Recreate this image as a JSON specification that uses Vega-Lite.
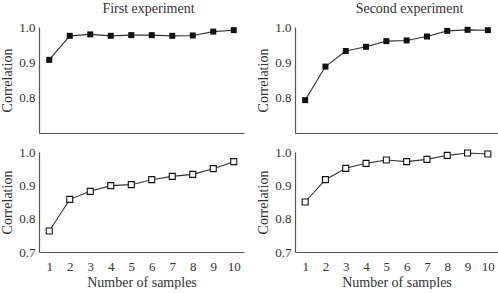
{
  "$schema": "https://vega.github.io/schema/vega-lite/v6.json",
  "background": "white",
  "padding": {"left": 0, "top": 2, "right": 0, "bottom": 0},
  "config": {
    "font": "Liberation Serif, Times New Roman, Times, serif",
    "view": {"stroke": null},
    "axis": {
      "grid": false,
      "ticks": false,
      "domainColor": "#555555",
      "domainWidth": 1.2,
      "labelFont": "Liberation Serif, Times New Roman, Times, serif",
      "labelFontSize": 13,
      "labelColor": "#333333",
      "titleFont": "Liberation Serif, Times New Roman, Times, serif",
      "titleFontSize": 14,
      "titleFontWeight": "normal",
      "titleColor": "#333333"
    },
    "title": {"font": "Liberation Serif, Times New Roman, Times, serif", "fontSize": 14, "fontWeight": "normal", "color": "#333333", "offset": 5}
  },
  "datasets": {
    "corr": [
      {"panel": "top-left", "n": 1, "r": 0.907},
      {"panel": "top-left", "n": 2, "r": 0.975},
      {"panel": "top-left", "n": 3, "r": 0.979},
      {"panel": "top-left", "n": 4, "r": 0.975},
      {"panel": "top-left", "n": 5, "r": 0.977},
      {"panel": "top-left", "n": 6, "r": 0.977},
      {"panel": "top-left", "n": 7, "r": 0.975},
      {"panel": "top-left", "n": 8, "r": 0.976},
      {"panel": "top-left", "n": 9, "r": 0.987},
      {"panel": "top-left", "n": 10, "r": 0.991},
      {"panel": "top-right", "n": 1, "r": 0.793},
      {"panel": "top-right", "n": 2, "r": 0.888},
      {"panel": "top-right", "n": 3, "r": 0.932},
      {"panel": "top-right", "n": 4, "r": 0.944},
      {"panel": "top-right", "n": 5, "r": 0.960},
      {"panel": "top-right", "n": 6, "r": 0.962},
      {"panel": "top-right", "n": 7, "r": 0.973},
      {"panel": "top-right", "n": 8, "r": 0.989},
      {"panel": "top-right", "n": 9, "r": 0.992},
      {"panel": "top-right", "n": 10, "r": 0.991},
      {"panel": "bottom-left", "n": 1, "r": 0.763},
      {"panel": "bottom-left", "n": 2, "r": 0.858},
      {"panel": "bottom-left", "n": 3, "r": 0.882},
      {"panel": "bottom-left", "n": 4, "r": 0.899},
      {"panel": "bottom-left", "n": 5, "r": 0.902},
      {"panel": "bottom-left", "n": 6, "r": 0.917},
      {"panel": "bottom-left", "n": 7, "r": 0.927},
      {"panel": "bottom-left", "n": 8, "r": 0.933},
      {"panel": "bottom-left", "n": 9, "r": 0.950},
      {"panel": "bottom-left", "n": 10, "r": 0.971},
      {"panel": "bottom-right", "n": 1, "r": 0.850},
      {"panel": "bottom-right", "n": 2, "r": 0.917},
      {"panel": "bottom-right", "n": 3, "r": 0.951},
      {"panel": "bottom-right", "n": 4, "r": 0.966},
      {"panel": "bottom-right", "n": 5, "r": 0.976},
      {"panel": "bottom-right", "n": 6, "r": 0.971},
      {"panel": "bottom-right", "n": 7, "r": 0.978},
      {"panel": "bottom-right", "n": 8, "r": 0.990},
      {"panel": "bottom-right", "n": 9, "r": 0.997},
      {"panel": "bottom-right", "n": 10, "r": 0.994}
    ]
  },
  "columns": 2,
  "bounds": "flush",
  "spacing": {"row": 19, "column": 51},
  "concat": [
    {
      "title": {"text": "First experiment", "dx": 7},
      "width": 205,
      "height": 106,
      "data": {"name": "corr"},
      "transform": [{"filter": "datum.panel === 'top-left'"}],
      "encoding": {
        "x": {"field": "n", "type": "quantitative", "scale": {"domain": [0.5, 10.5], "nice": false},
              "axis": {"labels": false, "title": null}},
        "y": {"field": "r", "type": "quantitative", "scale": {"domain": [0.7, 1.0], "nice": false, "zero": false},
              "axis": {"values": [0.8, 0.9, 1.0], "format": ".1f", "title": "Correlation", "labelPadding": 4, "titlePadding": 4}}
      },
      "layer": [
        {"mark": {"type": "line", "color": "#333333", "strokeWidth": 1.1}},
        {"mark": {"type": "point", "shape": "square", "filled": true, "color": "#111111", "size": 36, "opacity": 1}}
      ]
    },
    {
      "title": {"text": "Second experiment", "dx": 13},
      "width": 203,
      "height": 106,
      "data": {"name": "corr"},
      "transform": [{"filter": "datum.panel === 'top-right'"}],
      "encoding": {
        "x": {"field": "n", "type": "quantitative", "scale": {"domain": [0.5, 10.5], "nice": false},
              "axis": {"labels": false, "title": null}},
        "y": {"field": "r", "type": "quantitative", "scale": {"domain": [0.7, 1.0], "nice": false, "zero": false},
              "axis": {"values": [0.8, 0.9, 1.0], "format": ".1f", "title": "Correlation", "labelPadding": 4, "titlePadding": 4}}
      },
      "layer": [
        {"mark": {"type": "line", "color": "#333333", "strokeWidth": 1.1}},
        {"mark": {"type": "point", "shape": "square", "filled": true, "color": "#111111", "size": 36, "opacity": 1}}
      ]
    },
    {
      "width": 205,
      "height": 100,
      "data": {"name": "corr"},
      "transform": [{"filter": "datum.panel === 'bottom-left'"}],
      "encoding": {
        "x": {"field": "n", "type": "quantitative", "scale": {"domain": [0.5, 10.5], "nice": false},
              "axis": {"values": [1, 2, 3, 4, 5, 6, 7, 8, 9, 10], "title": "Number of samples", "labelPadding": 8, "titlePadding": 2}},
        "y": {"field": "r", "type": "quantitative", "scale": {"domain": [0.7, 1.0], "nice": false, "zero": false},
              "axis": {"values": [0.7, 0.8, 0.9, 1.0], "format": ".1f", "title": "Correlation", "labelPadding": 4, "titlePadding": 4}}
      },
      "layer": [
        {"mark": {"type": "line", "color": "#333333", "strokeWidth": 1.1}},
        {"mark": {"type": "point", "shape": "square", "filled": true, "fill": "white", "stroke": "#111111", "strokeWidth": 1.1, "size": 36, "opacity": 1}}
      ]
    },
    {
      "width": 203,
      "height": 100,
      "data": {"name": "corr"},
      "transform": [{"filter": "datum.panel === 'bottom-right'"}],
      "encoding": {
        "x": {"field": "n", "type": "quantitative", "scale": {"domain": [0.5, 10.5], "nice": false},
              "axis": {"values": [1, 2, 3, 4, 5, 6, 7, 8, 9, 10], "title": "Number of samples", "labelPadding": 8, "titlePadding": 2}},
        "y": {"field": "r", "type": "quantitative", "scale": {"domain": [0.7, 1.0], "nice": false, "zero": false},
              "axis": {"values": [0.7, 0.8, 0.9, 1.0], "format": ".1f", "title": "Correlation", "labelPadding": 4, "titlePadding": 4}}
      },
      "layer": [
        {"mark": {"type": "line", "color": "#333333", "strokeWidth": 1.1}},
        {"mark": {"type": "point", "shape": "square", "filled": true, "fill": "white", "stroke": "#111111", "strokeWidth": 1.1, "size": 36, "opacity": 1}}
      ]
    }
  ]
}
